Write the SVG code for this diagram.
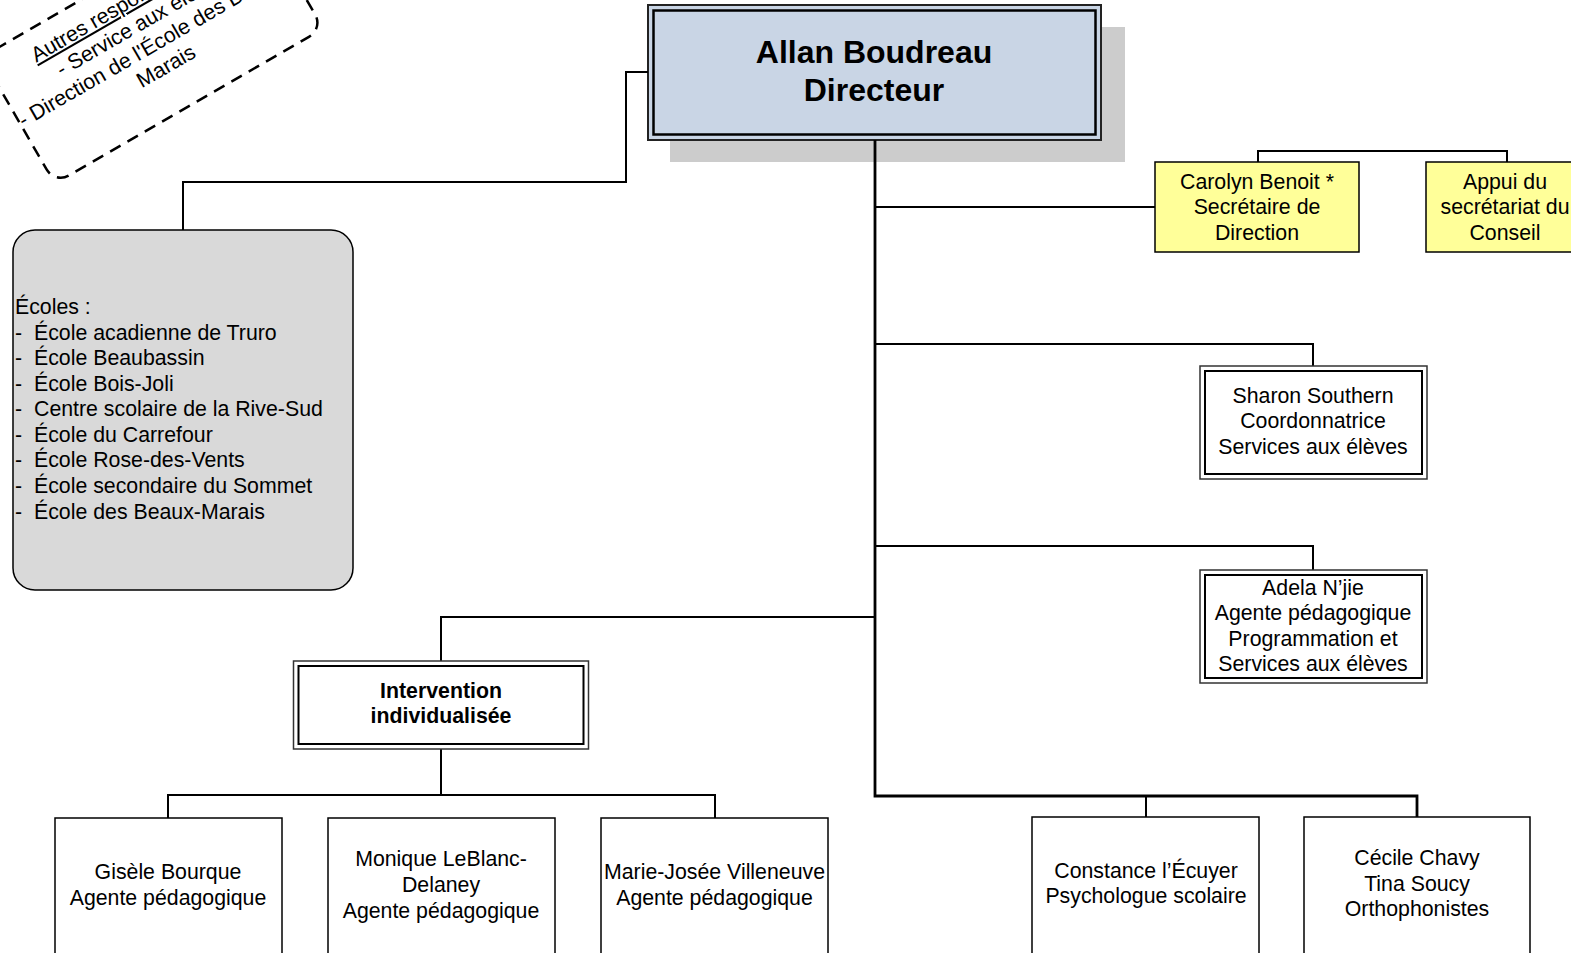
<svg xmlns="http://www.w3.org/2000/svg" width="1571" height="953" viewBox="0 0 1571 953">
<style>
text{font-family:"Liberation Sans",Arial,sans-serif;font-size:21.3px;fill:#000}
.c{text-anchor:middle}
.b{font-weight:bold}
.box{fill:#fff;stroke:#000;stroke-width:1.5}
.yel{fill:#FFFF99;stroke:#000;stroke-width:1.5}
.dout{fill:#fff;stroke:#333;stroke-width:1.5}
.din{fill:none;stroke:#000;stroke-width:2}
.ln{fill:none;stroke:#000;stroke-width:2}
.main{fill:none;stroke:#000;stroke-width:2.8}
</style>
<rect width="1571" height="953" fill="#fff"/>
<g id="directeur">
<rect x="670" y="27" width="455" height="135" fill="#CCCCCC"/>
<rect x="648" y="5" width="453" height="135" fill="#C9D5E5" stroke="#222" stroke-width="2"/>
<rect x="653.5" y="10.5" width="442" height="124" fill="none" stroke="#000" stroke-width="2.5"/>
<text class="c b" x="874" y="63" style="font-size:32px">Allan Boudreau</text>
<text class="c b" x="874" y="101" style="font-size:32px">Directeur</text>
</g>
<g id="connectors">
<path class="ln" d="M648,72 H626 V182 H183 V230"/>
<path class="main" d="M875,140 V796 H1417 V817"/>
<path class="ln" d="M1146,796 V817"/>
<path class="ln" d="M875,207 H1156"/>
<path class="ln" d="M1258,162 V151 H1507 V162"/>
<path class="ln" d="M875,344 H1313 V366"/>
<path class="ln" d="M875,546 H1313 V570"/>
<path class="ln" d="M875,617 H441 V661"/>
<path class="ln" d="M441,749 V795"/>
<path class="ln" d="M168,818 V795 H715 V818"/>
</g>
<g id="autres">
<g transform="translate(152,42) rotate(-30)">
<rect x="-155" y="-72" width="310" height="146" rx="16" fill="#fff" stroke="#000" stroke-width="2.5" stroke-dasharray="12 8"/>
<text class="c" y="-40" text-decoration="underline">Autres  responsabilités :</text>
<text class="c" y="-15">- Service aux élèves</text>
<text class="c" y="10">- Direction de l'École des Beaux-</text>
<text class="c" y="35">Marais</text>
</g>
</g>
<g id="ecoles">
<rect x="13" y="230" width="340" height="360" rx="22" fill="#D9D9D9" stroke="#000" stroke-width="1.5"/>
<text x="15" y="314">Écoles :</text>
<g>
<text x="15" y="340">-</text><text x="34" y="340">École acadienne de Truro</text>
<text x="15" y="365">-</text><text x="34" y="365">École Beaubassin</text>
<text x="15" y="391">-</text><text x="34" y="391">École Bois-Joli</text>
<text x="15" y="416">-</text><text x="34" y="416">Centre scolaire de la Rive-Sud</text>
<text x="15" y="442">-</text><text x="34" y="442">École du Carrefour</text>
<text x="15" y="467">-</text><text x="34" y="467">École Rose-des-Vents</text>
<text x="15" y="493">-</text><text x="34" y="493">École secondaire du Sommet</text>
<text x="15" y="519">-</text><text x="34" y="519">École des Beaux-Marais</text>
</g>
</g>
<g id="carolyn">
<rect class="yel" x="1155" y="162" width="204" height="90"/>
<text class="c" x="1257" y="189">Carolyn Benoit *</text>
<text class="c" x="1257" y="214">Secrétaire de</text>
<text class="c" x="1257" y="240">Direction</text>
</g>
<g id="appui">
<rect class="yel" x="1426" y="162" width="163" height="90"/>
<text class="c" x="1505" y="189">Appui du</text>
<text class="c" x="1505" y="214">secrétariat du</text>
<text class="c" x="1505" y="240">Conseil</text>
</g>
<g id="sharon">
<rect class="dout" x="1200" y="366" width="227" height="113"/>
<rect class="din" x="1205" y="371" width="217" height="103"/>
<text class="c" x="1313" y="403">Sharon Southern</text>
<text class="c" x="1313" y="428">Coordonnatrice</text>
<text class="c" x="1313" y="454">Services aux élèves</text>
</g>
<g id="adela">
<rect class="dout" x="1200" y="570" width="227" height="113"/>
<rect class="din" x="1205" y="575" width="217" height="103"/>
<text class="c" x="1313" y="595">Adela N’jie</text>
<text class="c" x="1313" y="620">Agente pédagogique</text>
<text class="c" x="1313" y="646">Programmation et</text>
<text class="c" x="1313" y="671">Services aux élèves</text>
</g>
<g id="intervention">
<rect class="dout" x="293.5" y="661" width="295" height="88"/>
<rect class="din" x="298.5" y="666" width="285" height="78"/>
<text class="c b" x="441" y="698">Intervention</text>
<text class="c b" x="441" y="723">individualisée</text>
</g>
<g id="gisele">
<rect class="box" x="55" y="818" width="227" height="150"/>
<text class="c" x="168" y="879">Gisèle Bourque</text>
<text class="c" x="168" y="905">Agente pédagogique</text>
</g>
<g id="monique">
<rect class="box" x="328" y="818" width="227" height="150"/>
<text class="c" x="441" y="866">Monique LeBlanc-</text>
<text class="c" x="441" y="892">Delaney</text>
<text class="c" x="441" y="918">Agente pédagogique</text>
</g>
<g id="mariejosee">
<rect class="box" x="601" y="818" width="227" height="150"/>
<text class="c" x="714.5" y="879">Marie-Josée Villeneuve</text>
<text class="c" x="714.5" y="905">Agente pédagogique</text>
</g>
<g id="constance">
<rect class="box" x="1032" y="817" width="227" height="150"/>
<text class="c" x="1146" y="878">Constance l’Écuyer</text>
<text class="c" x="1146" y="903">Psychologue scolaire</text>
</g>
<g id="cecile">
<rect class="box" x="1304" y="817" width="226" height="150"/>
<text class="c" x="1417" y="865">Cécile Chavy</text>
<text class="c" x="1417" y="891">Tina Soucy</text>
<text class="c" x="1417" y="916">Orthophonistes</text>
</g>
</svg>
